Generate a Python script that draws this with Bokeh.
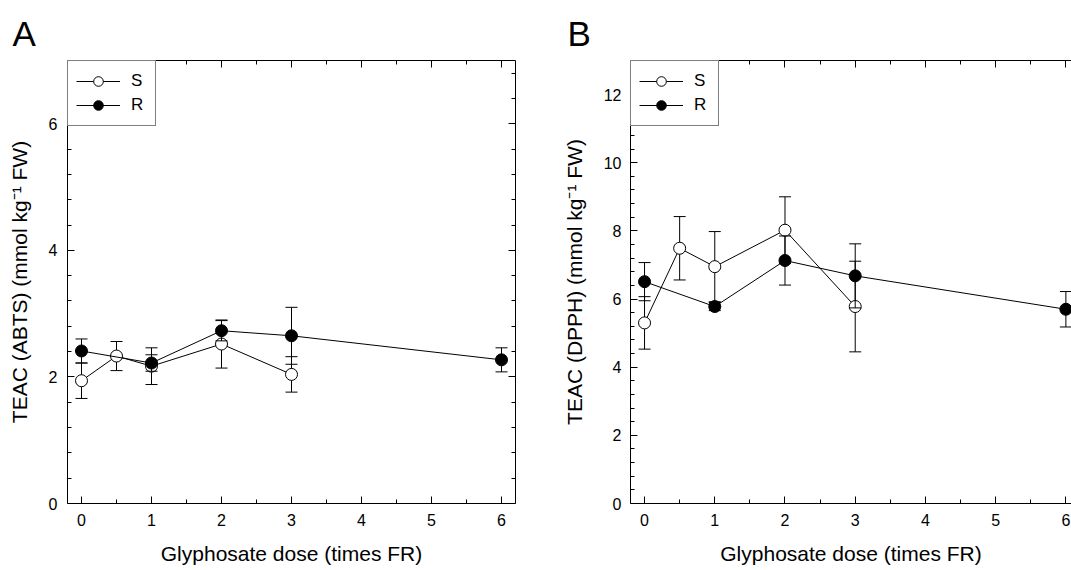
from bokeh.plotting import figure
from bokeh.models import (Range1d, FixedTicker, LinearAxis, Legend, LegendItem,
                          CustomJSTickFormatter, ColumnDataSource, Title)
from bokeh.layouts import row
from bokeh.embed import file_html
from bokeh.resources import INLINE

FONT = "Liberation Sans"

# ---- data ----
dose_S = [0, 0.5, 1, 2, 3]
dose_R = [0, 1, 2, 3, 6]

# Panel A: TEAC (ABTS)
abts_S = [1.94, 2.33, 2.17, 2.52, 2.04]
abts_S_err = [0.28, 0.23, 0.29, 0.38, 0.28]
abts_R = [2.41, 2.22, 2.73, 2.65, 2.27]
abts_R_err = [0.19, 0.13, 0.16, 0.45, 0.19]

# Panel B: TEAC (DPPH)
dpph_S = [5.30, 7.49, 6.95, 8.02, 5.78]
dpph_S_err = [0.77, 0.93, 1.03, 0.98, 1.33]
dpph_R = [6.51, 5.78, 7.13, 6.68, 5.70]
dpph_R_err = [0.56, 0.12, 0.72, 0.94, 0.52]

x_ticks = [0, 1, 2, 3, 4, 5, 6]
x_minor = [0.5, 1.5, 2.5, 3.5, 4.5, 5.5]
a_y_ticks = [0, 2, 4, 6]
b_y_ticks = [0, 2, 4, 6, 8, 10, 12]

x_label = "Glyphosate dose (times FR)"
a_y_label = "TEAC (ABTS) (mmol kg\u207b\u00b9 FW)"
b_y_label = "TEAC (DPPH) (mmol kg\u207b\u00b9 FW)"


def minor_y(ymax):
    return [round(0.4 * i, 1) for i in range(1, int(ymax / 0.4) + 1) if i % 5 != 0]


def style_axis(ax, label_standoff=10, title_standoff=10):
    ax.major_tick_in = 7
    ax.major_tick_out = 0
    ax.minor_tick_in = 4
    ax.minor_tick_out = 0
    ax.axis_line_color = "black"
    ax.axis_line_width = 1
    ax.major_tick_line_color = "black"
    ax.minor_tick_line_color = "black"
    ax.major_label_text_font = FONT
    ax.major_label_text_font_size = "16px"
    ax.major_label_text_color = "black"
    ax.major_label_standoff = label_standoff
    ax.axis_label_text_font = FONT
    ax.axis_label_text_font_size = "21px"
    ax.axis_label_text_font_style = "normal"
    ax.axis_label_text_color = "black"
    ax.axis_label_standoff = title_standoff


def blank_axis(yt, minor):
    ax = LinearAxis(ticker=FixedTicker(ticks=yt, minor_ticks=minor),
                    formatter=CustomJSTickFormatter(code="return ''"))
    style_axis(ax, label_standoff=0)
    ax.major_label_text_font_size = "0px"
    return ax


def add_series(p, dose, teac, err, fill):
    lo = [t - e for t, e in zip(teac, err)]
    hi = [t + e for t, e in zip(teac, err)]
    src = ColumnDataSource(dict(x=dose, y=teac, lo=lo, hi=hi))
    ln = p.line("x", "y", source=src, line_color="black", line_width=1)
    p.segment(x0="x", y0="lo", x1="x", y1="hi", source=src, line_color="black", line_width=1)
    p.scatter("x", "lo", source=src, marker="dash", size=12, line_color="black", line_width=1)
    p.scatter("x", "hi", source=src, marker="dash", size=12, line_color="black", line_width=1)
    mk = p.scatter("x", "y", source=src, marker="circle", size=12, fill_color=fill,
                   line_color="black", line_width=1)
    return ln, mk


def make_panel(letter, letter_offset, y_label, yt, ymax, s_vals, s_err, r_vals, r_err,
               width, left, right, x_end, y_std, right_axis):
    p = figure(width=width, height=570, x_range=Range1d(-0.2, x_end), y_range=Range1d(0, ymax),
               output_backend="svg", toolbar_location=None,
               min_border_left=left, min_border_right=right, min_border_top=60, min_border_bottom=67,
               x_axis_label=x_label, y_axis_label=y_label)
    p.grid.visible = False
    p.outline_line_color = None
    p.background_fill_color = "white"
    p.border_fill_color = "white"

    p.title = Title(text=letter, align="left", offset=letter_offset, standoff=16,
                    text_font=FONT, text_font_size="35px", text_font_style="normal",
                    text_color="black")

    p.xaxis[0].ticker = FixedTicker(ticks=x_ticks, minor_ticks=x_minor)
    style_axis(p.xaxis[0], label_standoff=10, title_standoff=13)
    p.yaxis[0].ticker = FixedTicker(ticks=yt, minor_ticks=minor_y(ymax))
    style_axis(p.yaxis[0], label_standoff=y_std, title_standoff=15)

    p.add_layout(blank_axis(x_ticks, x_minor), "above")
    if right_axis:
        p.add_layout(blank_axis(yt, minor_y(ymax)), "right")

    ls, ms = add_series(p, dose_S, s_vals, s_err, "white")
    lr, mr = add_series(p, dose_R, r_vals, r_err, "black")

    legend = Legend(items=[LegendItem(label="S", renderers=[ls, ms]),
                           LegendItem(label="R", renderers=[lr, mr])],
                    location="top_left", margin=0, padding=8, spacing=0,
                    glyph_width=44, glyph_height=24, label_height=19, label_width=16,
                    label_standoff=11, label_text_font=FONT, label_text_font_size="17px",
                    label_text_color="black", border_line_color="black", border_line_width=1,
                    background_fill_color="white", background_fill_alpha=1)
    p.add_layout(legend)
    return p


pa = make_panel("A", -55, a_y_label, a_y_ticks, 7,
                abts_S, abts_S_err, abts_R, abts_R_err,
                width=555, left=67, right=40, x_end=6.2, y_std=10, right_axis=True)
pb = make_panel("B", -63, b_y_label, b_y_ticks, 13,
                dpph_S, dpph_S_err, dpph_R, dpph_R_err,
                width=516, left=75, right=0, x_end=6.08, y_std=9, right_axis=False)

layout = row(pa, pb)
open("out.html", "w").write(file_html(layout, INLINE))
